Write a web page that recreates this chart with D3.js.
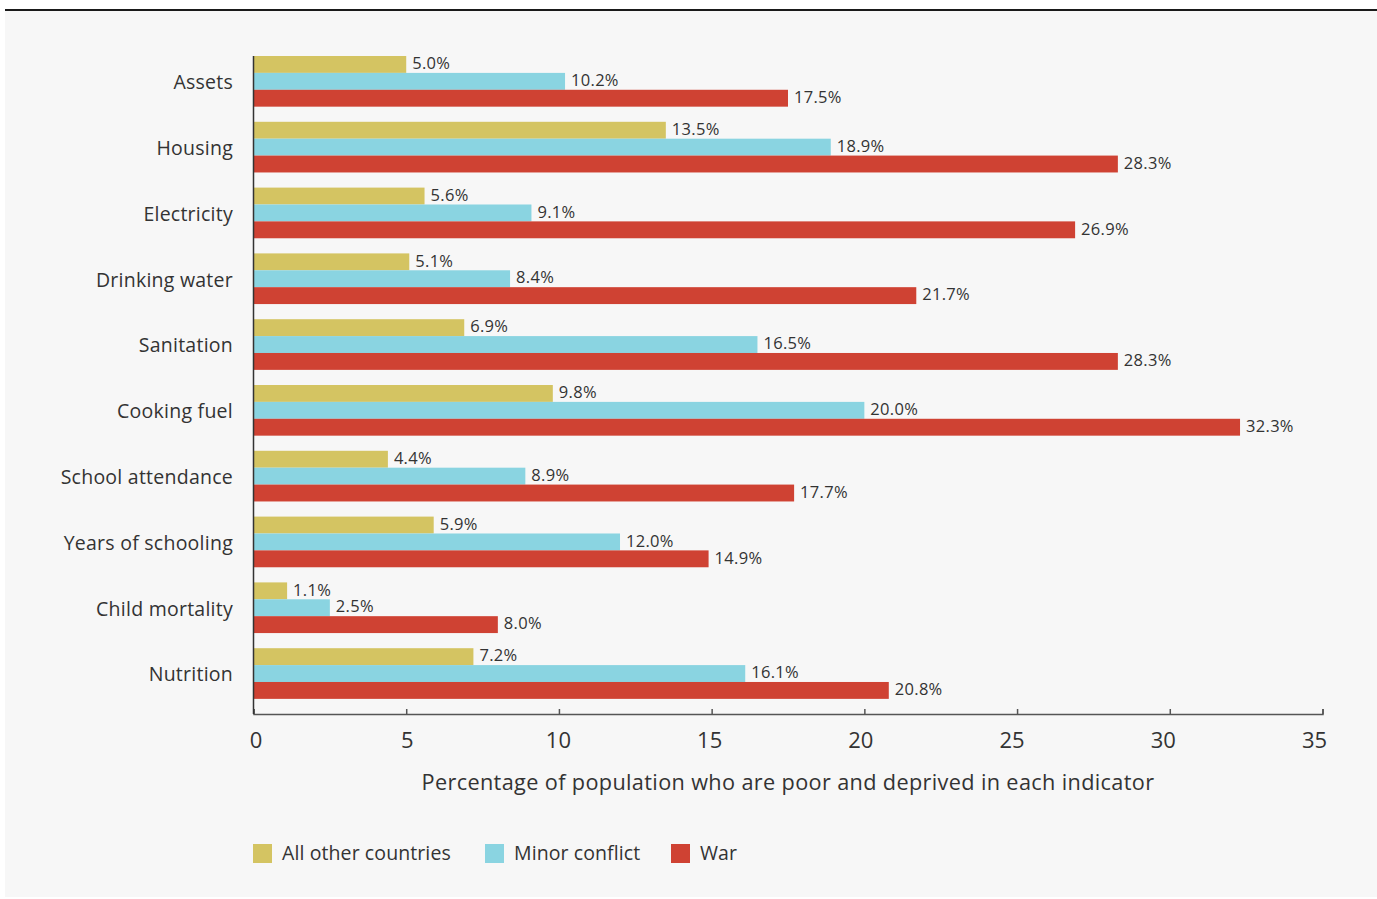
<!DOCTYPE html>
<html>
  <head>
    <script src="https://d3js.org/d3.v7.min.js"></script>
    <style>
      body { margin: 0; background: #fff; }
      text { font-family: "Open Sans", sans-serif; fill: #333; }
      .cat { font-size: 19.5px; letter-spacing: 0.25px; }
      .val { font-size: 16.5px; letter-spacing: 0.3px; }
      .axis text { font-size: 22px; fill: #333; font-family: "Open Sans", sans-serif; }
      .axis path, .axis line { stroke: #555; stroke-width: 1.5; }
      .title { font-size: 21.7px; letter-spacing: 0.35px; }
      .legend text { font-size: 19.5px; letter-spacing: 0.1px; }
    </style>
  </head>
  <body>
    <svg width="1377" height="899"></svg>
    <script>
      const categories = ["Assets", "Housing", "Electricity", "Drinking water", "Sanitation",
        "Cooking fuel", "School attendance", "Years of schooling", "Child mortality", "Nutrition"];
      const seriesNames = ["All other countries", "Minor conflict", "War"];
      const otherCountries = [5.0, 13.5, 5.6, 5.1, 6.9, 9.8, 4.4, 5.9, 1.1, 7.2];
      const minorConflict = [10.2, 18.9, 9.1, 8.4, 16.5, 20.0, 8.9, 12.0, 2.5, 16.1];
      const war = [17.5, 28.3, 26.9, 21.7, 28.3, 32.3, 17.7, 14.9, 8.0, 20.8];
      const xTicks = [0, 5, 10, 15, 20, 25, 30, 35];
      const colors = ["#d4c462", "#8ad4e1", "#cf4233"];

      const series = [otherCountries, minorConflict, war];
      const rows = categories.map((c, i) => ({
        category: c,
        values: series.map((s, j) => ({ key: seriesNames[j], value: s[i] }))
      }));

      const svg = d3.select("svg");

      // background panel + top rule
      svg.append("rect").attr("x", 5).attr("y", 10).attr("width", 1372).attr("height", 887)
        .attr("fill", "#f7f7f7");
      svg.append("line").attr("x1", 5).attr("x2", 1377).attr("y1", 10).attr("y2", 10)
        .attr("stroke", "#1a1a1a").attr("stroke-width", 2);

      const x = d3.scaleLinear().domain([0, 35]).range([253.5, 1322.5]);
      const y = d3.scaleBand().domain(categories).range([56, 714])
        .paddingInner(0.23).paddingOuter(0.115).align(0);
      const ySub = d3.scaleBand().domain(seriesNames).range([0, y.bandwidth()]);
      const color = d3.scaleOrdinal().domain(seriesNames).range(colors);

      const group = svg.append("g").selectAll("g")
        .data(rows)
        .join("g")
          .attr("transform", d => `translate(0, ${y(d.category)})`);

      group.selectAll("rect")
        .data(d => d.values)
        .join("rect")
          .attr("x", x(0))
          .attr("y", d => ySub(d.key))
          .attr("width", d => x(d.value) - x(0))
          .attr("height", ySub.bandwidth())
          .attr("fill", d => color(d.key));

      group.selectAll(".val")
        .data(d => d.values)
        .join("text")
          .attr("class", "val")
          .attr("x", d => x(d.value) + 6)
          .attr("y", d => ySub(d.key) + ySub.bandwidth() / 2 - 1)
          .attr("dy", "0.35em")
          .text(d => d.value.toFixed(1) + "%");

      group.append("text")
        .attr("class", "cat")
        .attr("x", 233)
        .attr("y", y.bandwidth() / 2 + 1)
        .attr("dy", "0.35em")
        .attr("text-anchor", "end")
        .text(d => d.category);

      // x axis
      const xAxis = svg.append("g")
        .attr("class", "axis")
        .attr("transform", "translate(0, 714)")
        .call(d3.axisBottom(x).tickValues(xTicks).tickSize(-5).tickSizeOuter(-5).tickPadding(18));
      xAxis.selectAll(".tick text")
        .attr("dy", "0.71em")
        .attr("dx", d => 2 - d * 0.3);

      // y axis line
      svg.append("line")
        .attr("x1", x(0)).attr("x2", x(0))
        .attr("y1", 56).attr("y2", 714)
        .attr("stroke", "#333").attr("stroke-width", 1.5);

      svg.append("text")
        .attr("class", "title")
        .attr("x", 788)
        .attr("y", 790)
        .attr("text-anchor", "middle")
        .text("Percentage of population who are poor and deprived in each indicator");

      // legend
      const legendX = [253, 485, 671];
      const legend = svg.append("g").attr("class", "legend")
        .selectAll("g")
        .data(seriesNames)
        .join("g")
          .attr("transform", (d, i) => `translate(${legendX[i]}, 844)`);
      legend.append("rect")
        .attr("width", 19).attr("height", 19)
        .attr("fill", color);
      legend.append("text")
        .attr("x", 29).attr("y", 9.5).attr("dy", "0.35em")
        .text(d => d);
    </script>
  </body>
</html>
